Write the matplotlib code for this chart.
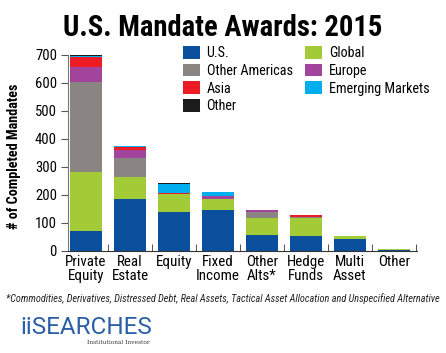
import numpy as np
import matplotlib
matplotlib.use('Agg')
import matplotlib.pyplot as plt

plt.rcParams['font.family'] = ['Roboto Condensed', 'DejaVu Sans Condensed', 'Roboto', 'DejaVu Sans']

# data
categories = ['Private\nEquity', 'Real\nEstate', 'Equity', 'Fixed\nIncome', 'Other\nAlts*',
              'Hedge\nFunds', 'Multi\nAsset', 'Other']
us       = [70, 186, 138, 145, 58, 54, 42, 2]
glob     = [212, 79, 67, 39, 60, 64, 13, 4]
other_am = [321, 68, 0, 0, 23, 2, 0, 0]
europe   = [53, 28, 0, 14, 4, 3, 0, 0]
asia     = [36, 11, 3, 0, 2, 6, 0, 0]
emerging = [3, 2, 33, 13, 0, 0, 0, 0]
other    = [4, 0, 2, 0, 0, 0, 0, 0]

series = [('U.S.', us, '#0a4f9c'), ('Global', glob, '#a3cb38'),
          ('Other Americas', other_am, '#8a8482'), ('Europe', europe, '#a2449c'),
          ('Asia', asia, '#ed1c24'), ('Emerging Markets', emerging, '#00adee'),
          ('Other', other, '#1b1b1b')]

fig = plt.figure(figsize=(4.46, 3.53), dpi=100)
ax = fig.add_axes([68/446, 1-251/353, 349/446, 196/353])

x = np.arange(len(categories))
bottom = np.zeros(len(categories))
handles = {}
for name, vals, col in series:
    b = ax.bar(x, vals, 0.73, bottom=bottom, color=col, label=name, linewidth=0)
    handles[name] = b
    bottom += np.array(vals)

ax.set_xlim(-0.41, 7.53)
ax.set_ylim(0, 700)
ax.set_yticks(range(0, 701, 100))
ax.tick_params(axis='y', labelsize=10.5, length=5, color='#555555', pad=3)
ax.set_xticks(x)
ax.set_xticklabels(categories, fontsize=10.8, linespacing=0.95)
ax.tick_params(axis='x', length=0, pad=3)
ax.set_xticks(np.arange(0.5, 8, 1), minor=True)
ax.tick_params(axis='x', which='minor', direction='in', length=5, color='#333333')
for s in ['top', 'right']:
    ax.spines[s].set_visible(False)
ax.spines['left'].set_color('#777777')
ax.spines['bottom'].set_color('#333333')

ax.set_ylabel('# of Completed Mandates', fontsize=10.2, fontweight='bold')
ax.yaxis.set_label_coords(-0.135, 0.482)

order = ['U.S.', 'Other Americas', 'Asia', 'Other', 'Global', 'Europe', 'Emerging Markets']
ax.legend([handles[n] for n in order], order, ncol=2, frameon=False,
          loc='upper left', bbox_to_anchor=(0.33, 1.045), fontsize=10.2,
          handlelength=1.2, handleheight=1.0, handletextpad=0.45,
          labelspacing=0.24, columnspacing=0.9, borderpad=0, borderaxespad=0)

fig.text(0.5, 1-28/353, 'U.S. Mandate Awards: 2015', ha='center', va='center',
         fontsize=20.6, fontweight='bold')
fig.text(0.5, 1-299/353,
         '*Commodities, Derivatives, Distressed Debt, Real Assets, Tactical Asset Allocation and Unspecified Alternative',
         ha='center', va='center', fontsize=7.4, style='italic', color='#222222')
fig.text(20/446, 1-327/353, 'iiSEARCHES', ha='left', va='center', fontsize=17.5,
         family='Roboto', color='#2a5fa8')
fig.text(150/446, 1-342/353, 'Institutional Investor', ha='right', va='center',
         fontsize=4.2, family='DejaVu Serif', color='#333333')

fig.savefig('out.png', dpi=100)
